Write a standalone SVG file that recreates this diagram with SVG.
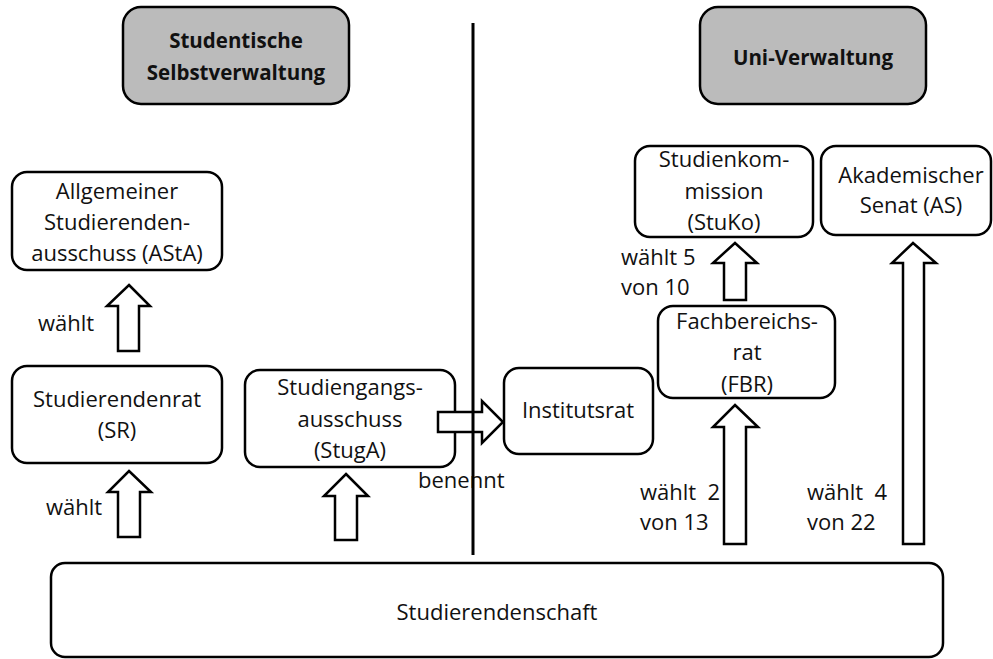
<svg xmlns="http://www.w3.org/2000/svg" width="993" height="659" viewBox="0 0 993 659">
<style>
.box{fill:#fff;stroke:#000;stroke-width:2.5}
.hdr{fill:#bbbbbb;stroke:#000;stroke-width:2.5}
.arr{fill:#fff;stroke:#000;stroke-width:2.5;stroke-linejoin:miter}
text{font-family:"Open Sans","Liberation Sans",sans-serif;font-size:22px;fill:#111}
.c{text-anchor:middle}
.b{font-weight:bold;font-size:20.5px}
</style>
<rect width="993" height="659" fill="#fff"/>
<g id="hdr-studentisch">
<rect class="hdr" x="123" y="7" width="226" height="97" rx="18"/>
<text class="c b" x="236" y="48">Studentische</text>
<text class="c b" x="236" y="80">Selbstverwaltung</text>
</g>
<g id="hdr-uni">
<rect class="hdr" x="700" y="7" width="226" height="97" rx="18"/>
<text class="c b" x="813" y="65">Uni-Verwaltung</text>
</g>
<g id="asta">
<rect class="box" x="12" y="172" width="210" height="98" rx="15"/>
<text class="c" x="117" y="199">Allgemeiner</text>
<text class="c" x="117" y="230">Studierenden-</text>
<text class="c" x="117" y="261">ausschuss (AStA)</text>
</g>
<g id="sr">
<rect class="box" x="12" y="366" width="210" height="97" rx="15"/>
<text class="c" x="117" y="407">Studierendenrat</text>
<text class="c" x="117" y="438">(SR)</text>
</g>
<g id="stuga">
<rect class="box" x="245" y="370" width="210" height="97" rx="15"/>
<text class="c" x="350" y="395">Studiengangs-</text>
<text class="c" x="350" y="427">ausschuss</text>
<text class="c" x="350" y="458">(StugA)</text>
</g>
<g id="institutsrat">
<rect class="box" x="504" y="368" width="149" height="86" rx="15"/>
<text class="c" x="578" y="418">Institutsrat</text>
</g>
<g id="fbr">
<rect class="box" x="658" y="306" width="177" height="92" rx="15"/>
<text class="c" x="747" y="329">Fachbereichs-</text>
<text class="c" x="747" y="360">rat</text>
<text class="c" x="747" y="392">(FBR)</text>
</g>
<g id="stuko">
<rect class="box" x="635" y="146" width="178" height="91" rx="15"/>
<text class="c" x="724" y="167">Studienkom-</text>
<text class="c" x="724" y="199">mission</text>
<text class="c" x="724" y="230">(StuKo)</text>
</g>
<g id="as">
<rect class="box" x="821" y="146" width="170" height="89" rx="15"/>
<text class="c" x="911" y="183">Akademischer</text>
<text class="c" x="911" y="213">Senat (AS)</text>
</g>
<g id="studierendenschaft">
<rect class="box" x="51" y="563" width="892" height="94" rx="14"/>
<text class="c" x="497" y="620">Studierendenschaft</text>
</g>
<g id="connectors">
<polygon class="arr" points="129,285 150,306 139,306 139,351 118,351 118,306 107,306"/>
<polygon class="arr" points="129,471 151,492 140,492 140,537 118,537 118,492 108,492"/>
<polygon class="arr" points="346,474 368,496 357,496 357,540 335,540 335,496 324,496"/>
<polygon class="arr" points="735,405 758,427 746,427 746,544 724,544 724,427 713,427"/>
<polygon class="arr" points="735,243 757,263 746,263 746,300 724,300 724,263 713,263"/>
<polygon class="arr" points="913,243 936,263 924,263 924,544 903,544 903,263 892,263"/>
<polygon class="arr" points="438,412 482,412 482,401 503,422 482,443 482,432 438,432"/>
<text x="38" y="331">wählt</text>
<text x="46" y="515">wählt</text>
<text x="418" y="488">benennt</text>
<text x="621" y="265">wählt 5</text>
<text x="621" y="295">von 10</text>
<text x="640" y="500" xml:space="preserve">wählt  2</text>
<text x="640" y="530">von 13</text>
<text x="807" y="500" xml:space="preserve">wählt  4</text>
<text x="807" y="530">von 22</text>
<line x1="473" y1="23" x2="473" y2="555" stroke="#000" stroke-width="3"/>
</g>
</svg>
